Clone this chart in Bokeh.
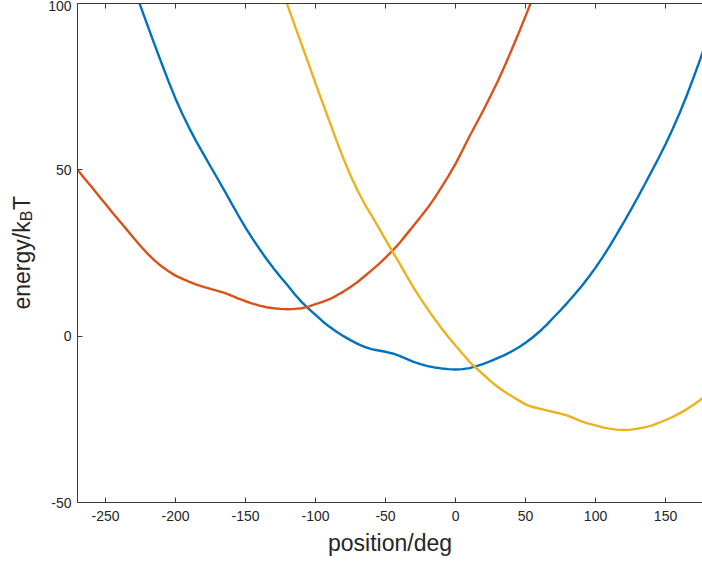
from bokeh.plotting import figure
from bokeh.layouts import row
from bokeh.models import Range1d, LinearAxis, FixedTicker, CustomJSTickFormatter
from bokeh.core.properties import value
from bokeh.embed import file_html
from bokeh.resources import INLINE
import math

# ---- data ----
blue_x = [-230, -225, -220, -215, -210, -205, -200, -195, -190, -185, -180, -175,
          -170, -165, -160, -155, -150, -145, -140, -135, -130, -125, -120, -115,
          -110, -105, -100, -95, -90, -85, -80, -75, -70, -65, -60, -55, -50, -45,
          -40, -35, -30, -25, -20, -15, -10, -5, 0, 5, 10, 15, 20, 25, 30, 35, 40,
          45, 50, 55, 60, 65, 70, 75, 80, 85, 90, 95, 100, 105, 110, 115, 120, 125,
          130, 135, 140, 145, 150, 155, 160, 165, 170, 175, 180]
blue_y = [105.1, 99.2, 93.4, 87.7, 82.1, 76.6, 71.4, 66.7, 62.4, 58.4, 54.7, 51.0,
          47.4, 43.7, 39.9, 36.2, 32.6, 29.3, 26.2, 23.2, 20.4, 17.8, 15.3, 12.7,
          10.3, 8.3, 6.4, 4.5, 2.8, 1.3, 0.0, -1.2, -2.3, -3.2, -3.9, -4.3, -4.7, -5.2,
          -5.9, -6.8, -7.7, -8.4, -9.0, -9.4, -9.7, -9.9, -10.0, -9.9, -9.6, -9.0,
          -8.3, -7.5, -6.6, -5.7, -4.6, -3.4, -2.0, -0.4, 1.4, 3.4, 5.6, 7.8, 10.1,
          12.5, 15.0, 17.7, 20.6, 23.7, 27.0, 30.5, 34.1, 37.8, 41.6, 45.5, 49.5,
          53.5, 57.7, 62.2, 67.0, 72.2, 77.7, 83.5, 89.5]

red_x = [-270, -265, -260, -255, -250, -245, -240, -235, -230, -225, -220, -215,
         -210, -205, -200, -195, -190, -185, -180, -175, -170, -165, -160, -155,
         -150, -145, -140, -135, -130, -125, -120, -115, -110, -105, -100, -95, -90,
         -85, -80, -75, -70, -65, -60, -55, -50, -45, -40, -35, -30, -25, -20, -15,
         -10, -5, 0, 5, 10, 15, 20, 25, 30, 35, 40, 45, 50, 55, 60]
red_y = [50.0, 47.4, 44.9, 42.3, 39.7, 37.1, 34.6, 32.1, 29.6, 27.1, 24.8, 22.8,
         21.0, 19.5, 18.2, 17.2, 16.3, 15.5, 14.8, 14.2, 13.6, 13.0, 12.2, 11.3,
         10.5, 9.8, 9.2, 8.7, 8.4, 8.2, 8.1, 8.2, 8.4, 8.9, 9.6, 10.3, 11.1, 12.2,
         13.4, 14.8, 16.3, 18.0, 19.8, 21.6, 23.6, 25.7, 28.0, 30.6, 33.2, 35.8,
         38.5, 41.5, 44.8, 48.2, 51.8, 55.9, 60.1, 64.0, 68.0, 72.2, 76.5, 81.1,
         86.0, 91.0, 96.2, 101.5, 107.0]

yellow_x = [-125, -120, -115, -110, -105, -100, -95, -90, -85, -80, -75, -70, -65,
            -60, -55, -50, -45, -40, -35, -30, -25, -20, -15, -10, -5, 0, 5, 10, 15,
            20, 25, 30, 35, 40, 45, 50, 55, 60, 65, 70, 75, 80, 85, 90, 95, 100, 105,
            110, 115, 120, 125, 130, 135, 140, 145, 150, 155, 160, 165, 170, 175, 180]
yellow_y = [105.2, 99.5, 93.6, 87.8, 81.9, 76.0, 70.2, 64.5, 58.8, 53.3, 48.3, 43.8,
            39.8, 36.3, 32.7, 29.0, 25.4, 21.9, 18.2, 14.6, 11.3, 8.2, 5.2, 2.4, -0.3,
            -2.8, -5.3, -7.7, -9.7, -11.6, -13.5, -15.2, -16.7, -18.0, -19.3, -20.5,
            -21.3, -21.8, -22.3, -22.8, -23.3, -23.9, -24.7, -25.6, -26.3, -26.8,
            -27.4, -27.8, -28.1, -28.2, -28.1, -27.8, -27.4, -26.9, -26.1, -25.2,
            -24.3, -23.2, -22.0, -20.6, -19.1, -17.5]

x_ticks = [-250, -200, -150, -100, -50, 0, 50, 100, 150]
y_ticks = [-50, 0, 50, 100]
x_label = "position/deg"
y_label_parts = ["energy/k", "B", "T"]

FONT = "Liberation Sans"
AX = "#3a3a3a"
TXT = "#262626"
X0, X1 = -270, 176.4
Y0, Y1 = -50, 100
W, H = 702, 565
LBL_W = 43
LEFT_AXIS_W = 77 - LBL_W

# ---------------- main plot ----------------
p = figure(width=W - LBL_W, height=H, output_backend="svg", toolbar_location=None,
           x_range=Range1d(X0, X1), y_range=Range1d(Y0, Y1),
           min_border_left=LEFT_AXIS_W, min_border_right=0, min_border_top=3,
           min_border_bottom=63, x_axis_location=None, y_axis_location=None)
p.grid.visible = False
p.outline_line_color = None
p.background_fill_color = "white"
p.border_fill_color = "white"

p.line(blue_x, blue_y, line_color="#0072BD", line_width=2.4)
p.line(red_x, red_y, line_color="#D95319", line_width=2.4)
p.line(yellow_x, yellow_y, line_color="#EDB120", line_width=2.4)


def style(ax):
    ax.axis_line_color = AX
    ax.axis_line_width = 1
    ax.major_tick_line_color = AX
    ax.major_tick_in = 5
    ax.major_tick_out = 0
    ax.minor_tick_line_color = None
    ax.major_label_text_font = FONT
    ax.major_label_text_color = TXT
    ax.major_label_text_font_size = "14px"


xb = LinearAxis(ticker=FixedTicker(ticks=x_ticks))
style(xb)
xb.major_label_overrides = {t: str(t) for t in x_ticks}
xb.major_label_standoff = 8
xb.axis_label = x_label
xb.axis_label_text_font = FONT
xb.axis_label_text_font_size = "23px"
xb.axis_label_text_font_style = "normal"
xb.axis_label_text_color = TXT
xb.axis_label_standoff = 6
p.add_layout(xb, "below")

xt = LinearAxis(ticker=FixedTicker(ticks=x_ticks),
                formatter=CustomJSTickFormatter(code="return ''"))
style(xt)
xt.major_label_standoff = 0
p.add_layout(xt, "above")

yl = LinearAxis(ticker=FixedTicker(ticks=y_ticks))
style(yl)
yl.major_label_overrides = {t: str(t) for t in y_ticks}
yl.major_label_standoff = 6
p.add_layout(yl, "left")

# ---------------- y-axis title panel (frame aligned with the main plot) ----------------
q = figure(width=LBL_W, height=H, output_backend="svg", toolbar_location=None,
           x_range=Range1d(0, LBL_W), y_range=Range1d(Y0, Y1),
           min_border_left=0, min_border_right=0, min_border_top=3,
           min_border_bottom=63, x_axis_location=None, y_axis_location=None)
q.grid.visible = False
q.outline_line_color = None
q.background_fill_color = "white"
q.border_fill_color = "white"

px_y = (502 - 3) / (Y1 - Y0)
def dy(py):  # canvas y pixel (from top) -> data y
    return Y1 - (py - 3) / px_y

base_px = 21
start_py = 309
main_w = 88.2
b_w = 11.2
for txt, bx, sy, fs in [(y_label_parts[0], base_px, start_py, "23px"),
                        (y_label_parts[1], base_px + 5, start_py - main_w, "16px"),
                        (y_label_parts[2], base_px, start_py - main_w - b_w, "23px")]:
    q.text(x=[bx], y=[dy(sy)], text=[txt], angle=math.pi / 2,
           text_font=value(FONT), text_font_size=fs, text_color=TXT,
           text_align="left", text_baseline="alphabetic")

layout = row(q, p, spacing=0)
open("out.html", "w").write(file_html(layout, INLINE))
